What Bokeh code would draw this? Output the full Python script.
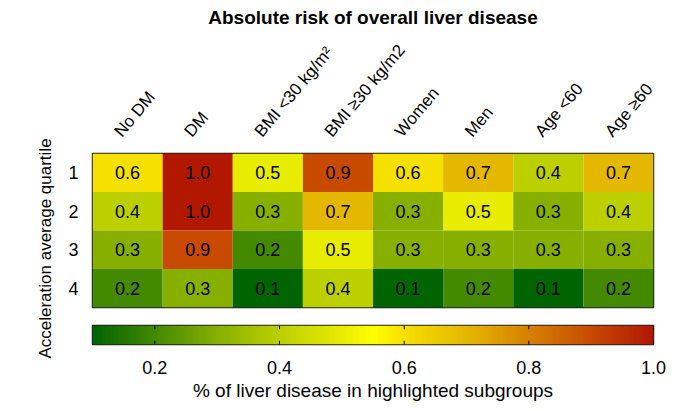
import numpy as np
from bokeh.plotting import figure
from bokeh.layouts import column, row
from bokeh.models import (LinearColorMapper, ColumnDataSource,
                          FixedTicker, LinearAxis, Range1d, PrintfTickFormatter)
from bokeh.core.properties import value
from bokeh.embed import file_html
from bokeh.resources import INLINE

# ---------------- data ----------------
groups = ["No DM", "DM", "BMI <30 kg/m\u00b2", "BMI \u226530 kg/m2", "Women", "Men", "Age <60", "Age \u226560"]
quartiles = ["1", "2", "3", "4"]
no_dm = [0.6, 0.4, 0.3, 0.2]
dm = [1.0, 1.0, 0.9, 0.3]
bmi_lt30 = [0.5, 0.3, 0.2, 0.1]
bmi_ge30 = [0.9, 0.7, 0.5, 0.4]
women = [0.6, 0.3, 0.3, 0.1]
men = [0.7, 0.5, 0.3, 0.2]
age_lt60 = [0.4, 0.3, 0.3, 0.1]
age_ge60 = [0.7, 0.4, 0.3, 0.2]
series = [no_dm, dm, bmi_lt30, bmi_ge30, women, men, age_lt60, age_ge60]
cbar_ticks = [0.2, 0.4, 0.6, 0.8, 1.0]
title = "Absolute risk of overall liver disease"
ylabel = "Acceleration average quartile"
cbar_label = "% of liver disease in highlighted subgroups"
low, high = 0.1, 1.0

# ---------------- colormap (green - yellow - red) ----------------
anchors = [(0.10, (0, 100, 0)), (0.20, (68, 138, 0)), (0.30, (136, 176, 0)),
           (0.40, (188, 208, 0)), (0.50, (232, 236, 0)), (0.55, (255, 255, 0)),
           (0.60, (245, 224, 0)), (0.70, (229, 184, 0)), (0.90, (200, 75, 0)),
           (1.00, (178, 24, 0))]
av = np.array([a[0] for a in anchors])
ac = np.array([a[1] for a in anchors], dtype=float)
grid = np.linspace(low, high, 256)
palette = []
for g in grid:
    r = np.interp(g, av, ac[:, 0]); gg = np.interp(g, av, ac[:, 1]); b = np.interp(g, av, ac[:, 2])
    palette.append("#%02x%02x%02x" % (int(round(r)), int(round(gg)), int(round(b))))
mapper = LinearColorMapper(palette=palette, low=low, high=high)

FONT = "Liberation Sans"
FS = "18px"
FL = "19px"
LW = 60  # width of the strip holding the y-axis title

# ---------------- y-axis title strip ----------------
lab = figure(width=LW, height=411, output_backend="svg", toolbar_location=None,
             x_range=Range1d(0, LW), y_range=Range1d(0, 411),
             min_border=0, min_border_left=0, min_border_right=0,
             min_border_top=0, min_border_bottom=0)
lab.axis.visible = False
lab.grid.visible = False
lab.outline_line_color = None
lab.text(x=[45], y=[411 - 248], text=[ylabel], angle=np.pi / 2,
         text_align="center", text_baseline="middle",
         text_font=value(FONT), text_font_size="17px", text_color="black")

# ---------------- heatmap ----------------
xs, ys, vals, txt = [], [], [], []
for i, s in enumerate(series):
    for j, v in enumerate(s):
        xs.append(i + 0.5)
        ys.append(len(quartiles) - j - 0.5)
        vals.append(v)
        txt.append("%.1f" % v)
src = ColumnDataSource(dict(x=xs, y=ys, v=vals, t=txt))

W = 692 - LW
p = figure(width=W, height=315, output_backend="svg", toolbar_location=None,
           x_range=Range1d(0, len(groups)), y_range=Range1d(0, len(quartiles)),
           min_border_top=153, min_border_bottom=8, min_border_left=92 - LW, min_border_right=39)
p.rect(x="x", y="y", width=1, height=1, source=src,
       fill_color={"field": "v", "transform": mapper}, line_color=None)
p.text(x="x", y="y", text="t", source=src, text_align="center", text_baseline="middle",
       text_font=value(FONT), text_font_size=FS, text_color="black")
p.xaxis.visible = False
p.xgrid.visible = False
p.ygrid.visible = False
p.yaxis.ticker = FixedTicker(ticks=[len(quartiles) - j - 0.5 for j in range(len(quartiles))])
p.yaxis.major_label_overrides = {len(quartiles) - j - 0.5: q for j, q in enumerate(quartiles)}
p.yaxis.major_tick_line_color = None
p.yaxis.minor_tick_line_color = None
p.yaxis.axis_line_color = None
p.yaxis.major_label_standoff = 8
p.yaxis.major_label_text_font = FONT
p.yaxis.major_label_text_font_size = FS
p.yaxis.major_label_text_color = "black"
p.outline_line_color = "#222222"
p.outline_line_width = 1.5

# column labels on a top axis (rotated)
shift = -0.14
col_ticks = [i + 0.5 + shift for i in range(len(groups))]
top = LinearAxis(ticker=FixedTicker(ticks=col_ticks),
                 major_label_overrides={t: g for t, g in zip(col_ticks, groups)},
                 major_label_orientation=np.deg2rad(50), major_label_standoff=13,
                 major_label_text_font=FONT, major_label_text_font_size="17px",
                 major_label_text_color="black", major_tick_line_color=None,
                 minor_tick_line_color=None, axis_line_color=None)
p.add_layout(top, "above")

# title
p.title.text = title
p.title.align = "center"
p.title.text_font = FONT
p.title.text_font_size = FL
p.title.text_font_style = "bold"
p.title.text_color = "black"
p.title.standoff = 8

# ---------------- colorbar ----------------
c = figure(width=W, height=96, output_backend="svg", toolbar_location=None,
           x_range=Range1d(low, high), y_range=Range1d(0, 1),
           min_border_top=10, min_border_bottom=67, min_border_left=92 - LW, min_border_right=39)
c.image(image=[grid[None, :]], x=low, y=0, dw=high - low, dh=1, color_mapper=mapper)
c.segment(x0=cbar_ticks, y0=[1] * len(cbar_ticks), x1=cbar_ticks, y1=[0.8] * len(cbar_ticks),
          line_color="black", line_width=1)
c.segment(x0=cbar_ticks, y0=[0] * len(cbar_ticks), x1=cbar_ticks, y1=[0.2] * len(cbar_ticks),
          line_color="black", line_width=1)
c.yaxis.visible = False
c.xgrid.visible = False
c.ygrid.visible = False
c.xaxis.ticker = FixedTicker(ticks=cbar_ticks)
c.xaxis.formatter = PrintfTickFormatter(format="%.1f")
c.xaxis.major_tick_line_color = None
c.xaxis.minor_tick_line_color = None
c.xaxis.axis_line_color = None
c.xaxis.major_label_standoff = 10
c.xaxis.major_label_text_font = FONT
c.xaxis.major_label_text_font_size = FS
c.xaxis.major_label_text_color = "black"
c.xaxis.axis_label = cbar_label
c.xaxis.axis_label_standoff = 3
c.xaxis.axis_label_text_font = FONT
c.xaxis.axis_label_text_font_size = FL
c.xaxis.axis_label_text_font_style = "normal"
c.xaxis.axis_label_text_color = "black"
c.outline_line_color = "#222222"
c.outline_line_width = 1.5

layout = row(lab, column(p, c, spacing=0), spacing=0)
open("out.html", "w").write(file_html(layout, INLINE))
